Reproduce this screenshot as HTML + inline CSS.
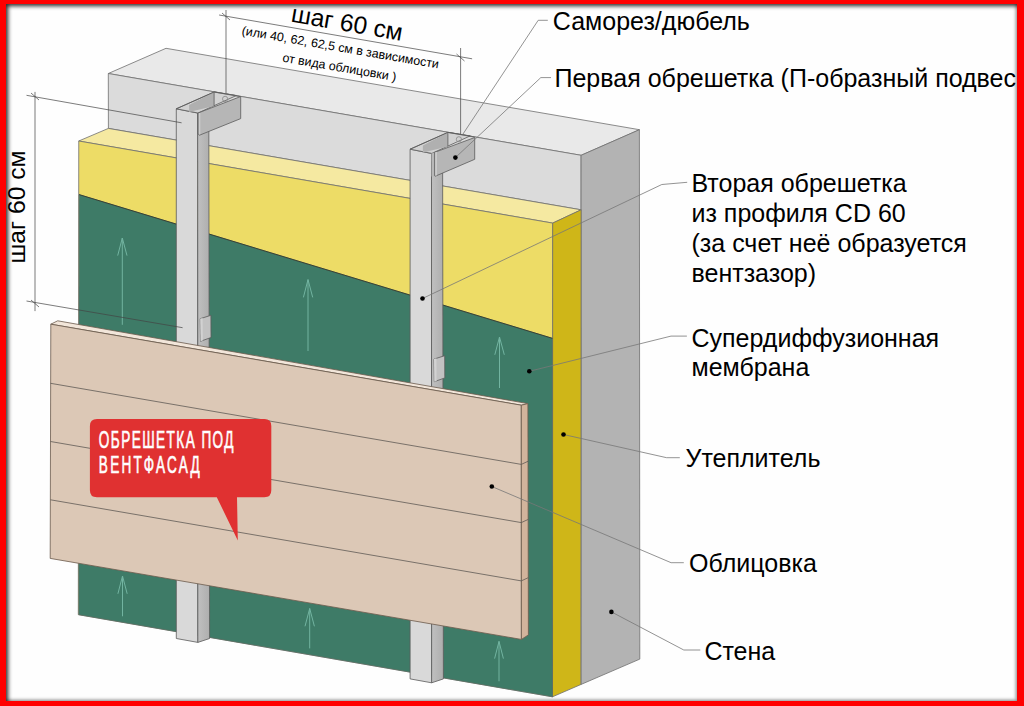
<!DOCTYPE html>
<html><head><meta charset="utf-8">
<style>
html,body{margin:0;padding:0;width:1024px;height:706px;overflow:hidden;background:#ff0000;}
#frame{position:absolute;left:6px;top:4px;width:1011px;height:697px;background:#fefefe;overflow:hidden;}
#shadow{position:absolute;left:6px;top:4px;width:1011px;height:697px;box-shadow:inset 2px 2px 4px rgba(0,0,0,0.85), inset -2px -2px 3px rgba(0,0,0,0.25);pointer-events:none;}
svg{position:absolute;left:0;top:0;}
text{font-family:"Liberation Sans",sans-serif;}
</style></head>
<body>
<div id="frame">
<svg width="1024" height="706" viewBox="0 0 1024 706" style="left:-6px;top:-4px">
<defs><linearGradient id="sideg" x1="0" x2="1" y1="0" y2="0"><stop offset="0" stop-color="#c0c0c0"/><stop offset="1" stop-color="#aeaeae"/></linearGradient></defs>
<g id="wall" stroke="#6e6e6e" stroke-width="0.8" stroke-linejoin="round">
  <polygon points="108.3,73.5 166,48.3 639.4,129.7 581.1,155.3" fill="#e9e9e9"/>
  <polygon points="108.3,73.5 581.1,155.3 581.1,209.8 108.4,128.4" fill="#dbdbdb"/>
  <polygon points="581.1,155.3 639.4,129.7 639.8,659.1 580.9,684.5" fill="#b3b3b3"/>
</g>
<g id="ins" stroke="#6e6e6e" stroke-width="0.8" stroke-linejoin="round">
  <polygon points="78.75,141 108.4,128.4 581.1,209.8 552.7,223.1" fill="#f5e9a1"/>
  <polygon points="78.75,141 552.7,223.1 552.5,696.8 78.3,614.7" fill="#eddc66"/>
  <polygon points="552.7,223.1 581.1,209.8 580.9,684.5 552.5,696.8" fill="#cfb618"/>
</g>
<g id="mem" stroke-linejoin="round">
  <polygon points="79.1,194.6 552.3,338.3 552.5,696.8 78.8,614.7" fill="#3e7b67" stroke="#5d6a64" stroke-width="0.6"/>
  <path d="M79.1,194.6L552.3,338.3" stroke="#2f3a30" stroke-width="0.9"/>
</g>
<g id="arrows" stroke="#72b4a1" stroke-width="1" fill="none">
  <path d="M122.3,324.8V238M117.7,255.6L122.3,238L127,255.6"/>
  <path d="M308,351V279.6M303.4,297.4L308,279.6L312.7,297.4"/>
  <path d="M499.5,388V337M494.8,354.8L499.5,337L504.3,354.8"/>
  <path d="M122.5,616.3V576M117.9,593.8L122.5,576L127.2,593.8"/>
  <path d="M309.7,648.4V608.5M305,626.3L309.7,608.5L314.4,626.3"/>
  <path d="M499,681.25V641.4M494.6,658.6L499,641.4L503.4,658.6"/>
</g>
<g id="prof1" stroke="#5a5a5a" stroke-width="0.8" stroke-linejoin="round">
  <polygon points="176.3,108.8 197.7,113.1 197.85,642.4 176.3,638.5" fill="#d9d9d9"/>
  <polygon points="197.7,113.1 208.8,111 209.6,638.5 197.85,642.4" fill="url(#sideg)"/>
  <polygon points="176.3,108.8 214.1,92 236.4,95.5 198,113" fill="#d2d2d2"/>
  <polygon points="189.1,105 214.1,92 214.1,106.1 189.1,112" fill="#b0b0b0" stroke="none"/>
  <path d="M176.3,108.8L214.1,92L240.7,96.7M214.1,92V106.1" fill="none"/>
  <polygon points="198.1,113 240.7,96.5 240.7,118.6 199.5,135.2 198.1,134" fill="#b6b6b6"/>
  <path d="M199.6,113V134.3" stroke="#cccccc" stroke-width="1.5"/>
  <circle cx="225.1" cy="98.9" r="2.6" fill="none" stroke="#888"/>
  <polygon points="200.2,318.7 210.9,315.3 211,337.5 200.5,341.3" fill="#c2c2c2"/>
  <polygon points="200.2,318.7 202.6,317.9 202.8,340.5 200.5,341.3" fill="#d2d2d2" stroke="none"/>
</g>
<g id="prof2" transform="translate(233.8,40.4)" stroke="#5a5a5a" stroke-width="0.8" stroke-linejoin="round">
  <polygon points="176.3,108.8 197.7,113.1 197.85,642.4 176.3,638.5" fill="#d9d9d9"/>
  <polygon points="197.7,113.1 208.8,111 209.6,638.5 197.85,642.4" fill="url(#sideg)"/>
  <polygon points="176.3,108.8 214.1,92 236.4,95.5 198,113" fill="#d2d2d2"/>
  <polygon points="189.1,105 214.1,92 214.1,106.1 189.1,112" fill="#b0b0b0" stroke="none"/>
  <path d="M176.3,108.8L214.1,92L240.7,96.7M214.1,92V106.1" fill="none"/>
  <polygon points="197.7,113.1 200.8,112 201.5,135.8 197.8,136" fill="#b8b8b8" stroke="none"/>
  <polygon points="200.8,112 240.9,97.1 240.9,118.9 201.5,135.8 200.8,135.3" fill="#b6b6b6"/>
  <path d="M202.3,111.5V135.2" stroke="#cfcfcf" stroke-width="1.5"/>
  <circle cx="225.1" cy="98.9" r="2.6" fill="none" stroke="#888"/>
  <polygon points="200.2,318.7 210.9,315.3 211,337.5 200.5,341.3" fill="#c2c2c2"/>
  <polygon points="200.2,318.7 202.6,317.9 202.8,340.5 200.5,341.3" fill="#d2d2d2" stroke="none"/>
</g>
<g id="clad" stroke="#6b5a4d" stroke-width="0.8" stroke-linejoin="round">
  <polygon points="57.7,320.8 527.9,403.6 521.3,405.2 50.8,324.2" fill="#f2e6da"/>
  <polygon points="50.8,324.2 521.3,405.2 521.4,639.4 50.2,558.4" fill="#dcc8b6"/>
  <polygon points="521.3,405.2 527.9,403.6 528.4,634.9 521.4,639.4" fill="#d2b49c"/>
  <path d="M50.5,383.3L521.3,464.4L528.2,461.2M50.5,441.5L521.3,522.6L528.2,519.4M50.5,499.8L521.3,580.9L528.2,577.7" fill="none" stroke="#5f5a55"/>
</g>
<g id="bubble">
  <path d="M97,418.9H264.3Q271.3,418.9 271.3,425.9V490.2Q271.3,497.2 264.3,497.2H237L237.8,540.5L216.8,497.2H96.9Q89.9,497.2 89.9,490.2V425.9Q89.9,418.9 97,418.9Z" fill="#e03131"/>
  <text x="98.8" y="447.9" font-size="24.5" letter-spacing="2.6" fill="#fff" stroke="#fff" stroke-width="0.7" transform="translate(98.8,0) scale(0.555,1) translate(-98.8,0)">ОБРЕШЕТКА ПОД</text>
  <text x="98.8" y="472.6" font-size="24.5" letter-spacing="4.1" fill="#fff" stroke="#fff" stroke-width="0.7" transform="translate(98.8,0) scale(0.555,1) translate(-98.8,0)">ВЕНТФАСАД</text>
</g>
<g id="dims" stroke="#444" stroke-width="0.7" fill="none">
  <path d="M219.1,15L472.1,58.8"/>
  <path d="M226,10V93M460.6,48V134.3"/>
  <path d="M35,91.9V311.1"/>
  <path d="M26.5,95.3L181.6,122.8M26.5,301L182.6,327.7"/>
  <path d="M222,13L230,20M456.5,54L464.5,61M31,93L39,100M31,300L39,307"/>
</g>
<g id="leaders" stroke="#777" stroke-width="0.8" fill="none">
  <path d="M462.8,134.3L538.2,20.3H547.8"/>
  <path d="M455.4,157.6L540.8,77.6H551"/>
  <path d="M422.5,298.5L661.8,184.5L687.2,182.3"/>
  <path d="M529.3,371.3L671,336.1H686.9"/>
  <path d="M563.5,434.5L666.6,457.7H679.8"/>
  <path d="M491.8,486.5L671.1,562.7H683.8"/>
  <path d="M611.4,611.9L683.8,650H700.3"/>
</g>
<g id="dots" fill="#000">
  <circle cx="455.4" cy="157.6" r="2.3"/>
  <circle cx="422.5" cy="298.5" r="2.3"/>
  <circle cx="529.3" cy="371.3" r="2.3"/>
  <circle cx="563.5" cy="434.5" r="2.3"/>
  <circle cx="491.8" cy="486.5" r="2.3"/>
  <circle cx="611.4" cy="611.9" r="2.3"/>
</g>
<g id="labels" font-size="25" fill="#000">
  <text x="552.8" y="30">Саморез/дюбель</text>
  <text x="554.5" y="86.9">Первая обрешетка (П-образный подвес</text>
  <text x="691.5" y="192.2">Вторая обрешетка</text>
  <text x="691.5" y="222.2">из профиля CD 60</text>
  <text x="691.5" y="252.2">(за счет неё образуется</text>
  <text x="691.5" y="281.9">вентзазор)</text>
  <text x="691.5" y="346.5">Супердиффузионная</text>
  <text x="691.5" y="375.7">мембрана</text>
  <text x="685.5" y="466.7">Утеплитель</text>
  <text x="689.1" y="572">Облицовка</text>
  <text x="704.4" y="659.7">Стена</text>
</g>
<g id="rot" fill="#000">
  <text font-size="24.6" transform="translate(290.2,21.6) rotate(9.8)">шаг 60 см</text>
  <text font-size="12.45" transform="translate(241.2,34.5) rotate(9.8)">(или 40, 62, 62,5 см в зависимости</text>
  <text font-size="12.45" transform="translate(282,61.5) rotate(9.8)">от вида облицовки )</text>
  <text font-size="24.7" transform="translate(25.2,263.5) rotate(-90)">шаг 60 см</text>
</g>
</svg>
</div>
<div id="shadow"></div>
</body></html>
